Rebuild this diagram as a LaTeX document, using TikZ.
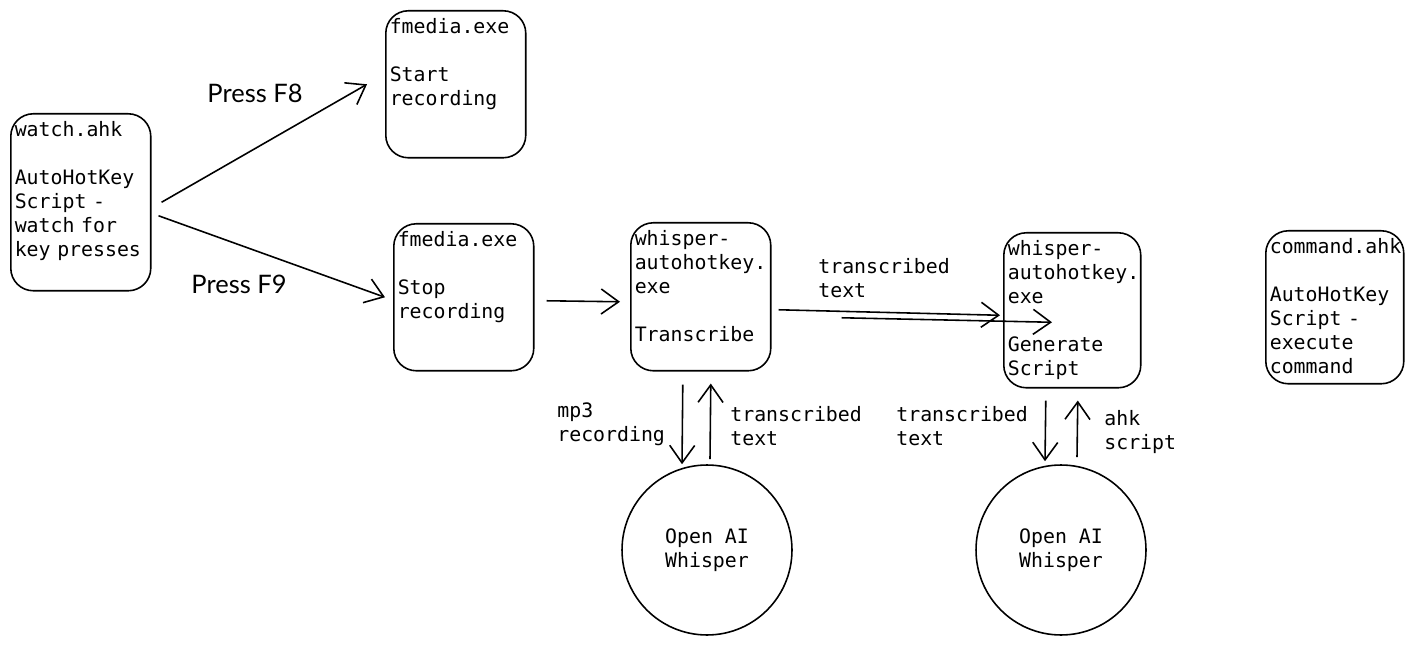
\documentclass[tikz,border=0pt]{standalone}
\usepackage{fontspec}
\setmonofont{DejaVu Sans Mono}
\newfontfamily\HandFont{Lato}
\usetikzlibrary{arrows.meta,positioning}

\tikzset{
	>={Straight Barb[length=3.5mm,width=5mm]},
	ScriptBox/.style={draw, rounded corners=4.5mm, line width=0.9pt, anchor=north west, align=left, inner xsep=0.08cm, inner ysep=0pt, text height=0.46cm, font=\ttfamily\fontsize{11.3}{13.66}\selectfont},
	WhisperCircle/.style={draw, circle, line width=0.9pt, minimum size=3.4cm, align=center, font=\ttfamily\fontsize{11.3}{13.66}\selectfont},
	FlowArrow/.style={->, line width=0.9pt},
	NoteText/.style={anchor=west, align=left, inner sep=0pt, font=\ttfamily\fontsize{11.3}{13.66}\selectfont},
	KeyText/.style={inner sep=0pt, font=\HandFont\fontsize{14.5}{16}\selectfont}
}

\begin{document}
\begin{tikzpicture}[x=0.02cm,y=-0.02cm]
					\pgfmathsetmacro{\BoxW}{2.64}
					\pgfmathsetmacro{\BoxD}{2.48}
					\useasboundingbox (0,0) rectangle (1413,645);
					% BOXES
					\node[ScriptBox, text width=\BoxW cm, text depth=3.08cm] (Watch) at (10,113) {watch.ahk\\[\baselineskip]AutoHotKey\\Script -\\watch for\\key presses};
					\node[ScriptBox, text width=\BoxW cm, text depth=\BoxD cm] (StartRec) at (385,10) {fmedia.exe\\[\baselineskip]Start\\recording};
					\node[ScriptBox, text width=\BoxW cm, text depth=\BoxD cm] (StopRec) at (393,223) {fmedia.exe\\[\baselineskip]Stop\\recording};
					\node[ScriptBox, text width=\BoxW cm, text depth=2.50cm] (Transcribe) at (630,222) {whisper-\\autohotkey.\\exe\\[\baselineskip]Transcribe};
					\node[ScriptBox, text width=2.58cm, text depth=2.64cm] (Generate) at (1003,232) {whisper-\\autohotkey.\\exe\\[\baselineskip]Generate\\Script};
					\node[ScriptBox, text width=2.60cm, text depth=2.60cm] (Command) at (1265,230) {command.ahk\\[\baselineskip]AutoHotKey\\Script -\\execute\\command};
					% WHISPER
					\node[WhisperCircle] (WhisperA) at (707,550) {Open AI\\Whisper};
					\node[WhisperCircle] (WhisperB) at (1061,550) {Open AI\\Whisper};
					% KEYS
					\draw[FlowArrow] ([xshift=0.2cm]Watch.east) -- ([xshift=-0.36cm]StartRec.west);
					\node[KeyText] (PressEight) at (255,93) {Press F8};
					\draw[FlowArrow] ([xshift=0.14cm,yshift=-0.27cm]Watch.east) -- ([xshift=-0.16cm]StopRec.west);
					\node[KeyText] (PressNine) at (239,284) {Press F9};
					% PIPELINE
					\draw[FlowArrow] ([xshift=0.24cm,yshift=-0.07cm]StopRec.east) -- ([xshift=-0.2cm,yshift=-0.1cm]Transcribe.west);
					\draw[FlowArrow] ([xshift=0.14cm,yshift=-0.26cm]Transcribe.east) -- ([xshift=-0.06cm,yshift=-0.1cm]Generate.west);
					\draw[FlowArrow] ([xshift=1.4cm,yshift=-0.42cm]Transcribe.east) -- ([xshift=0.98cm,yshift=-0.24cm]Generate.west);
					\node[NoteText] (NoteA) at (818,278) {transcribed\\text};
					% API CALLS
					\draw[FlowArrow] ([xshift=-0.36cm,yshift=-0.26cm]Transcribe.south) -- ([xshift=-0.5cm]WhisperA.north);
					\draw[FlowArrow] ([xshift=0.06cm,yshift=0.1cm]WhisperA.north) -- ([xshift=0.2cm,yshift=-0.24cm]Transcribe.south);
					\node[NoteText] (NoteB) at (557,424) {mp3\\recording};
					\node[NoteText] (NoteC) at (730,426) {transcribed\\text};
					\draw[FlowArrow] ([xshift=-0.53cm,yshift=-0.24cm]Generate.south) -- ([xshift=-0.32cm,yshift=0.06cm]WhisperB.north);
					\draw[FlowArrow] ([xshift=0.32cm,yshift=0.14cm]WhisperB.north) -- ([xshift=0.11cm,yshift=-0.24cm]Generate.south);
					\node[NoteText] (NoteD) at (896,426) {transcribed\\text};
					\node[NoteText] (NoteE) at (1104,432) {ahk\\script};
				\end{tikzpicture}
\end{document}
